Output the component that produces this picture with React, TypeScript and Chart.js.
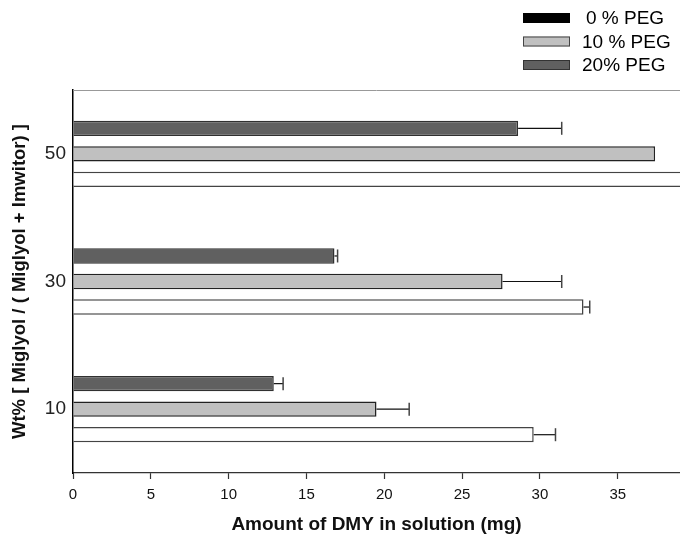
import React, { useEffect, useRef } from 'react';
import { Chart, registerables } from 'chart.js';

Chart.register(...registerables);

// ---- data ----
const categories = ['50', '30', '10'];
const seriesLabels = ['0 % PEG', '10 % PEG', '20% PEG'];
const peg0 = [40, 32.8, 29.6];
const peg0Err = [0, 0.4, 1.4];
const peg10 = [37.4, 27.6, 19.5];
const peg10Err = [0, 3.8, 2.1];
const peg20 = [28.6, 16.8, 12.9];
const peg20Err = [2.8, 0.2, 0.6];
const xMin = 0;
const xMax = 39;
const xStep = 5;
const xTitle = 'Amount of DMY in solution (mg)';
const yTitle = 'Wt% [ Miglyol / ( Miglyol + Imwitor) ]';

const FONT = "'Liberation Sans', Arial, Helvetica, sans-serif";

const legendColors = [
  { fill: '#000000', stroke: '#000000' },
  { fill: '#c0c0c0', stroke: '#444444' },
  { fill: '#606060', stroke: '#333333' },
];

const errorBarPlugin = {
  id: 'errorBars',
  afterDatasetsDraw(chart: any) {
    const ctx = chart.ctx;
    const xs = chart.scales.x;
    const area = chart.chartArea;
    ctx.save();
    ctx.beginPath();
    ctx.rect(area.left, area.top - 2, area.right - area.left, area.bottom - area.top + 4);
    ctx.clip();
    chart.data.datasets.forEach((ds: any, di: number) => {
      const meta = chart.getDatasetMeta(di);
      meta.data.forEach((bar: any, i: number) => {
        const e = ds.errors ? ds.errors[i] : 0;
        if (!e) return;
        const v = ds.data[i];
        const x0 = xs.getPixelForValue(v);
        const x1 = xs.getPixelForValue(v + e);
        const y = bar.y;
        const half = 6.5;
        ctx.strokeStyle = '#111';
        ctx.lineWidth = 1.2;
        ctx.beginPath();
        ctx.moveTo(x0, y);
        ctx.lineTo(x1, y);
        ctx.stroke();
        ctx.strokeStyle = '#444';
        ctx.lineWidth = 1.5;
        ctx.beginPath();
        ctx.moveTo(x1, y - half);
        ctx.lineTo(x1, y + half);
        ctx.stroke();
      });
    });
    ctx.restore();
  },
};

const frameAndLegendPlugin = {
  id: 'frameAndLegend',
  afterDraw(chart: any) {
    const ctx = chart.ctx;
    const area = chart.chartArea;
    ctx.save();
    // thin top frame line
    ctx.strokeStyle = '#999';
    ctx.lineWidth = 1;
    ctx.beginPath();
    ctx.moveTo(area.left, area.top + 0.5);
    ctx.lineTo(area.right, area.top + 0.5);
    ctx.stroke();
    // legend (vertical, top right)
    const boxX = 523;
    const boxW = 47;
    const boxH = 10;
    const textX = 582;
    const rowY = [18, 41.5, 65];
    ctx.font = `19px ${FONT}`;
    ctx.textBaseline = 'middle';
    ctx.textAlign = 'left';
    seriesLabels.forEach((label, i) => {
      const cy = rowY[i];
      ctx.fillStyle = legendColors[i].fill;
      ctx.fillRect(boxX, cy - boxH / 2, boxW, boxH);
      ctx.strokeStyle = legendColors[i].stroke;
      ctx.lineWidth = 1;
      ctx.strokeRect(boxX + 0.5, cy - boxH / 2 + 0.5, boxW - 1, boxH - 1);
      ctx.fillStyle = '#000';
      ctx.fillText(label, textX + (i === 0 ? 4 : 0), cy + 1);
    });
    ctx.restore();
  },
};

export default function App() {
  const canvasRef = useRef<HTMLCanvasElement | null>(null);

  useEffect(() => {
    document.body.style.margin = '0';
    const canvas = canvasRef.current;
    if (!canvas) return;
    const chart = new Chart(canvas, {
      type: 'bar',
      data: {
        labels: categories,
        datasets: [
          {
            label: seriesLabels[2],
            data: peg20,
            errors: peg20Err,
            backgroundColor: '#606060',
            borderColor: '#303030',
            borderWidth: 1.5,
          } as any,
          {
            label: seriesLabels[1],
            data: peg10,
            errors: peg10Err,
            backgroundColor: '#c0c0c0',
            borderColor: '#222222',
            borderWidth: 1.5,
          } as any,
          {
            label: seriesLabels[0],
            data: peg0,
            errors: peg0Err,
            backgroundColor: '#ffffff',
            borderColor: '#444444',
            borderWidth: 1.5,
          } as any,
        ],
      },
      options: {
        indexAxis: 'y',
        responsive: false,
        maintainAspectRatio: false,
        animation: false,
        devicePixelRatio: 1,
        layout: { padding: { top: 90, right: 0, bottom: 0, left: 0 } },
        datasets: {
          bar: { categoryPercentage: 0.6, barPercentage: 0.6 },
        },
        plugins: {
          legend: { display: false },
          tooltip: { enabled: false },
          title: { display: false },
        },
        scales: {
          x: {
            type: 'linear',
            position: 'bottom',
            min: xMin,
            max: xMax,
            ticks: {
              stepSize: xStep,
              includeBounds: false,
              color: '#111',
              font: { family: FONT, size: 15 },
              padding: 7,
            },
            grid: {
              drawOnChartArea: false,
              drawTicks: true,
              tickLength: 6,
              tickColor: '#333',
              tickWidth: 1.2,
            },
            border: { display: true, color: '#333', width: 1.2 },
            title: {
              display: true,
              text: xTitle,
              color: '#111',
              font: { family: FONT, size: 19, weight: 'bold' },
              padding: { top: 0, bottom: 2 },
            },
            afterFit: (scale: any) => {
              scale.height = 65;
            },
          },
          y: {
            type: 'category',
            position: 'left',
            offset: true,
            ticks: {
              color: '#222',
              font: { family: FONT, size: 19 },
              padding: 7,
            },
            grid: { drawOnChartArea: false, drawTicks: false, offset: true },
            border: { display: true, color: '#000', width: 1.5 },
            title: {
              display: true,
              text: yTitle,
              color: '#111',
              font: { family: FONT, size: 18.5, weight: 'bold' },
              padding: { top: 9, bottom: 0 },
            },
            afterFit: (scale: any) => {
              scale.width = 73;
            },
          },
        },
      } as any,
      plugins: [errorBarPlugin, frameAndLegendPlugin],
    });
    return () => chart.destroy();
  }, []);

  return (
    <div style={{ width: 680, height: 538 }}>
      <canvas ref={canvasRef} width={680} height={538} />
    </div>
  );
}
